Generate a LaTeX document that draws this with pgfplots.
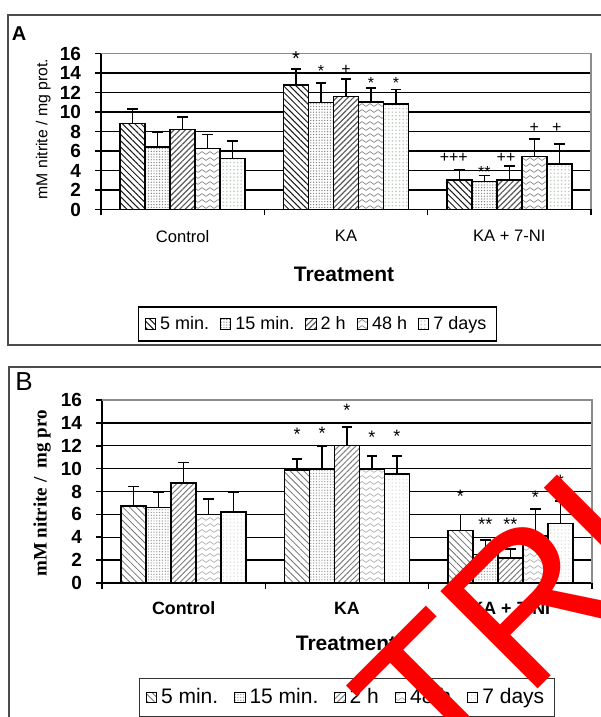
\documentclass[border=0pt]{standalone}
\usepackage{fontspec}
\setmainfont{Liberation Sans}
\newfontfamily\timesfont{Liberation Serif}
\usepackage{pgfplots}
\pgfplotsset{compat=1.18}
\usetikzlibrary{patterns.meta}

\tikzdeclarepattern{
  name=wavy, type=uncolored,
  bounding box={(0pt,-1.5pt) and (4pt,1.5pt)},
  tile size={(4pt,3pt)},
  code={\draw[line width=0.35pt] (0pt,0pt) sin (1pt,0.7pt) cos (2pt,0pt) sin (3pt,-0.7pt) cos (4pt,0pt);}
}
\definecolor{pale}{rgb}{0.76,0.80,0.76}

\pgfplotsset{
  pbar/.style 2 args={fill=white, draw=black, line width=0.75pt,
    postaction={pattern={#1}, pattern color=#2},
    legend image code/.code={\draw[##1, line width=0.45pt] (0pt,-2.6pt) rectangle (5.2pt,2.6pt);}},
  panel/.style={
    scale only axis, width=245pt,
    ybar=0pt, bar width=12.5pt,
    xmin=-0.5, xmax=2.5, ymin=0, ymax=16,
    axis x line*=bottom, axis y line*=left,
    axis line style={-, black, line width=0.8pt},
    xtick={-0.5,0.5,1.5,2.5}, xticklabels={},
    extra x ticks={0,1,2},
    ytick={0,2,...,16},
    extra y ticks={2,4,...,14}, extra y tick labels={},
    extra y tick style={grid=major, major tick length=0pt},
    major grid style={black, line width=0.7pt},
    tick align=outside, major tick length=3pt,
    tick style={black, line width=0.8pt},
    /pgf/number format/assume math mode=true,
    yticklabel style={font=\bfseries\fontsize{9.5}{10}\selectfont, xshift=-3.5pt},
    every axis plot/.append style={
      error bars/y dir=plus, error bars/y explicit,
      error bars/error bar style={black, line width=0.7pt},
      error bars/error mark options={rotate=90, black, line width=0.8pt, mark size=2.6pt}},
    legend columns=5,
    clip=false,
  },
}

\begin{document}
\begin{tikzpicture}
\useasboundingbox (0,0) rectangle (300pt,358.5pt);

% panel frames
\draw[black!70, line width=1.1pt] (4pt,186pt) rectangle (312pt,351pt);
\draw[black!70, line width=1.1pt] (4.5pt,-10pt) rectangle (312pt,175pt);
\node[font=\bfseries\fontsize{10}{10}\selectfont] at (9.5pt,341.5pt) {A};
\node[font=\fontsize{13}{13}\selectfont] at (12pt,167.5pt) {B};

% ---------- panel A ----------
\begin{axis}[panel, at={(50.5pt,253.75pt)}, anchor=south west, height=78pt,
  extra x tick labels={Control, KA, KA + 7-NI},
  extra x tick style={major tick length=0pt,
    tick label style={font=\fontsize{8.3}{9}\selectfont, yshift=-7pt}},
  ylabel={mM nitrite / mg prot.},
  every axis y label/.style={at={(axis description cs:-0.118,0.516)}, rotate=90, anchor=center,
    font=\fontsize{7.9}{8}\selectfont},
  xlabel={Treatment},
  every axis x label/.style={at={(axis description cs:0.496,-0.413)}, anchor=center,
    font=\bfseries\fontsize{10.5}{11}\selectfont},
  legend style={at={(0.442,-0.734)}, anchor=center, draw=black, line width=0.6pt,
    font=\fontsize{9}{10}\selectfont, inner xsep=3pt, inner ysep=2.5pt,
    /tikz/every even column/.append style={column sep=3.5pt}},
]
\addplot[pbar={Lines[angle=-45, distance=2.2pt, line width=0.5pt]}{black!90}]
  coordinates {(0,8.8) +- (0,1.5) (1,12.75) +- (0,1.65) (2,3.0) +- (0,1.1)};
\addplot[pbar={Dots[radius=0.35pt, distance=1.4pt]}{black!50}]
  coordinates {(0,6.4) +- (0,1.5) (1,10.95) +- (0,2.0) (2,2.85) +- (0,0.65)};
\addplot[pbar={Lines[angle=45, distance=2pt, line width=0.6pt]}{black!65}]
  coordinates {(0,8.2) +- (0,1.3) (1,11.6) +- (0,1.8) (2,3.0) +- (0,1.45)};
\addplot[pbar={wavy}{black!45}]
  coordinates {(0,6.25) +- (0,1.45) (1,11.0) +- (0,1.45) (2,5.45) +- (0,1.8)};
\addplot[pbar={Dots[radius=0.45pt, distance=1.8pt]}{pale}]
  coordinates {(0,5.25) +- (0,1.8) (1,10.8) +- (0,1.5) (2,4.65) +- (0,2.05)};
\legend{5 min., 15 min., 2 h, 48 h, 7 days}
\draw[black!45, line width=0.7pt] (rel axis cs:0,1) -- (rel axis cs:1,1) -- (rel axis cs:1,0);
\begin{scope}[every node/.style={font=\fontsize{8}{8}\selectfont, inner sep=0pt}]
\node[font=\fontsize{10}{10}\selectfont] at (axis cs:0.694,15.5) {*};
\node at (axis cs:0.847,14.2) {*};
\node at (axis cs:1.0,14.3) {+};
\node at (axis cs:1.153,13.0) {*};
\node at (axis cs:1.306,13.0) {*};
\node at (axis cs:1.66,5.3) {+++};
\node at (axis cs:1.847,3.8) {**};
\node at (axis cs:1.98,5.3) {++};
\node at (axis cs:2.153,8.4) {+};
\node at (axis cs:2.29,8.4) {+};
\end{scope}
\end{axis}

% ---------- panel B ----------
\begin{axis}[panel, at={(51pt,67pt)}, anchor=south west, height=91.5pt,
  extra x tick labels={Control, KA, KA + 7-NI},
  extra x tick style={major tick length=0pt,
    tick label style={font=\bfseries\fontsize{8.9}{9}\selectfont, yshift=-6pt}},
  ylabel={mM nitrite /\ \ mg pro},
  every axis y label/.style={at={(axis description cs:-0.122,0.49)}, rotate=90, anchor=center,
    font=\timesfont\bfseries\fontsize{9.5}{10}\selectfont},
  xlabel={Treatment},
  every axis x label/.style={at={(axis description cs:0.498,-0.328)}, anchor=center,
    font=\bfseries\fontsize{10.5}{11}\selectfont},
  legend style={at={(0.5,-0.626)}, anchor=center, draw=black!80, line width=0.6pt,
    font=\fontsize{10.5}{11}\selectfont, inner xsep=3pt, inner ysep=3pt,
    /tikz/every even column/.append style={column sep=6pt}},
]
\addplot[pbar={Lines[angle=-45, distance=2.4pt, line width=0.4pt]}{black!55}]
  coordinates {(0,6.75) +- (0,1.7) (1,9.9) +- (0,0.95) (2,4.6) +- (0,1.4)};
\addplot[pbar={Dots[radius=0.35pt, distance=1.4pt]}{black!40}]
  coordinates {(0,6.6) +- (0,1.3) (1,9.95) +- (0,2.05) (2,2.5) +- (0,1.25)};
\addplot[pbar={Lines[angle=45, distance=2pt, line width=0.5pt]}{black!50}]
  coordinates {(0,8.75) +- (0,1.8) (1,12.0) +- (0,1.65) (2,2.2) +- (0,0.75)};
\addplot[pbar={wavy}{black!30}]
  coordinates {(0,6.0) +- (0,1.35) (1,9.95) +- (0,1.15) (2,4.1) +- (0,2.35)};
\addplot[pbar={Dots[radius=0.4pt, distance=1.8pt]}{black!12}]
  coordinates {(0,6.2) +- (0,1.7) (1,9.55) +- (0,1.55) (2,5.2) +- (0,1.95)};
\legend{5 min., 15 min., 2 h, 48 h, 7 days}
\draw[black!45, line width=0.7pt] (rel axis cs:0,1) -- (rel axis cs:1,1) -- (rel axis cs:1,0);
\begin{scope}[every node/.style={font=\fontsize{9}{9}\selectfont, inner sep=0pt}]
\node at (axis cs:0.694,13.0) {*};
\node at (axis cs:0.847,13.1) {*};
\node at (axis cs:1.0,15.1) {*};
\node at (axis cs:1.153,12.7) {*};
\node at (axis cs:1.306,12.8) {*};
\node at (axis cs:1.694,7.6) {*};
\node at (axis cs:1.847,5.1) {**};
\node at (axis cs:2.0,5.1) {**};
\node at (axis cs:2.153,7.5) {*};
\node at (axis cs:2.306,8.9) {*};
\end{scope}
\end{axis}

% red watermark over the picture
\node[rotate=45, anchor=base west, text=red, inner sep=0pt,
  font=\fontsize{100}{100}\selectfont] at (220pt,-35pt) {TRIAL};
\end{tikzpicture}
\end{document}
